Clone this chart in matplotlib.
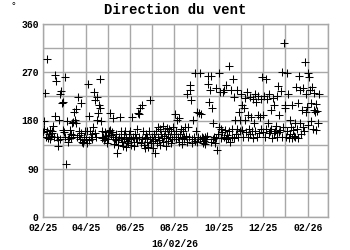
import matplotlib
matplotlib.use("Agg")
import matplotlib.pyplot as plt
import matplotlib.dates as mdates
import matplotlib.ticker as mticker
import pandas as pd

start_date = "2025-02-01"
end_date = "2026-03-01"

# daily wind direction (degrees), Feb 2025 -> 16 Feb 2026
feb25 = [158, 165, 179, 232, 150, 294, 160, 148, 155, 163, 145, 152, 160, 157, 170, 150,
         265, 188, 254, 150, 144, 132, 181, 146, 230, 235, 213, 214]
mar25 = [163, 159, 150, 262, 99, 179, 145, 140, 150, 162, 155, 148, 175, 153, 178, 196,
         181, 202, 176, 150, 224, 153, 160, 145, 156, 212, 140, 138, 150, 143, 160]
apr25 = [145, 160, 138, 249, 188, 143, 160, 150, 155, 145, 167, 234, 156, 219, 150, 181,
         224, 194, 209, 203, 258, 179, 148, 160, 150, 143, 147, 158, 152, 138]
may25 = [145, 153, 160, 194, 162, 153, 158, 184, 150, 137, 146, 155, 143, 120, 134, 143,
         150, 186, 160, 148, 140, 132, 155, 145, 160, 131, 150, 142, 138, 155, 148]
jun25 = [160, 135, 145, 186, 150, 140, 132, 155, 147, 165, 140, 194, 193, 150, 203, 138,
         209, 145, 160, 134, 148, 128, 155, 140, 150, 131, 160, 218, 145, 138]
jul25 = [150, 142, 128, 155, 119, 145, 160, 138, 168, 150, 143, 165, 135, 155, 147, 170,
         140, 152, 160, 133, 148, 166, 155, 142, 165, 150, 138, 160, 145, 168, 150]
aug25 = [155, 193, 145, 160, 181, 150, 140, 184, 155, 165, 148, 137, 160, 150, 145, 168,
         152, 230, 140, 168, 150, 246, 237, 218, 145, 138, 181, 150, 268, 142, 160]
sep25 = [196, 140, 150, 194, 268, 145, 193, 150, 138, 148, 142, 150, 137, 145, 152, 249,
         263, 215, 237, 263, 140, 203, 145, 175, 150, 138, 240, 148, 125, 155]
oct25 = [268, 168, 234, 165, 148, 159, 234, 150, 237, 162, 246, 145, 153, 147, 281, 160,
         140, 237, 150, 165, 258, 224, 148, 181, 155, 237, 165, 150, 196, 160, 181]
nov25 = [230, 163, 209, 150, 203, 181, 222, 158, 233, 150, 190, 165, 224, 155, 187, 160,
         221, 148, 175, 230, 160, 215, 150, 190, 225, 156, 187, 165, 221, 262]
dec25 = [158, 190, 225, 150, 258, 165, 220, 175, 156, 230, 160, 165, 200, 148, 222, 156,
         209, 160, 170, 225, 150, 245, 158, 190, 163, 235, 150, 270, 168, 324, 209]
jan26 = [203, 150, 269, 160, 230, 148, 181, 155, 168, 147, 209, 162, 152, 175, 150, 243,
         165, 212, 148, 263, 175, 236, 155, 200, 168, 240, 160, 290, 230, 196, 205]
feb26 = [268, 172, 262, 236, 212, 180, 243, 165, 200, 232, 196, 162, 210, 198, 175, 230]

values = feb25 + mar25 + apr25 + may25 + jun25 + jul25 + aug25 + sep25 + oct25 + nov25 + dec25 + jan26 + feb26
dates = pd.date_range(start_date, periods=len(values), freq="D")

title = "Direction du vent"
unit_label = "°"
footer = "16/02/26"
y_ticks = [0, 45, 90, 135, 180, 225, 270, 315, 360]
y_labels = ["0", "", "90", "", "180", "", "270", "", "360"]

mono = ["Liberation Mono", "DejaVu Sans Mono"]
grid_col = "#a8a8a8"

fig = plt.figure(figsize=(3.5, 2.5), dpi=100)
ax = fig.add_axes([0.1229, 0.132, 0.8143, 0.772])

ax.scatter(dates, values, marker="+", s=32, linewidths=0.75, color="black", zorder=3)

ax.set_xlim(pd.Timestamp(start_date), pd.Timestamp(end_date))
ax.set_ylim(0, 360)

ax.set_yticks(y_ticks)
ax.set_yticklabels(y_labels)
ax.xaxis.set_major_locator(mdates.MonthLocator())

def fmt(x, pos):
    d = mdates.num2date(x)
    return d.strftime("%m/%y") if d.month % 2 == 0 else ""

ax.xaxis.set_major_formatter(mticker.FuncFormatter(fmt))

ax.grid(True, color=grid_col, linewidth=1.0, zorder=0)
ax.set_axisbelow(True)
for sp in ax.spines.values():
    sp.set_color(grid_col)
    sp.set_linewidth(1.0)
ax.tick_params(axis="x", length=0, pad=4)
ax.tick_params(axis="y", length=0, pad=3)
for lab in ax.get_xticklabels() + ax.get_yticklabels():
    lab.set_family(mono)
    lab.set_fontweight("bold")
    lab.set_fontsize(7)

fig.text(0.5, 0.958, title, ha="center", va="center", family=mono,
         fontweight="bold", fontsize=10)
fig.text(0.037, 0.975, unit_label, ha="center", va="center", family=mono, fontsize=7)
fig.text(0.5, 0.025, footer, ha="center", va="center", family=mono,
         fontweight="bold", fontsize=7)

fig.savefig("out.png", dpi=100)
